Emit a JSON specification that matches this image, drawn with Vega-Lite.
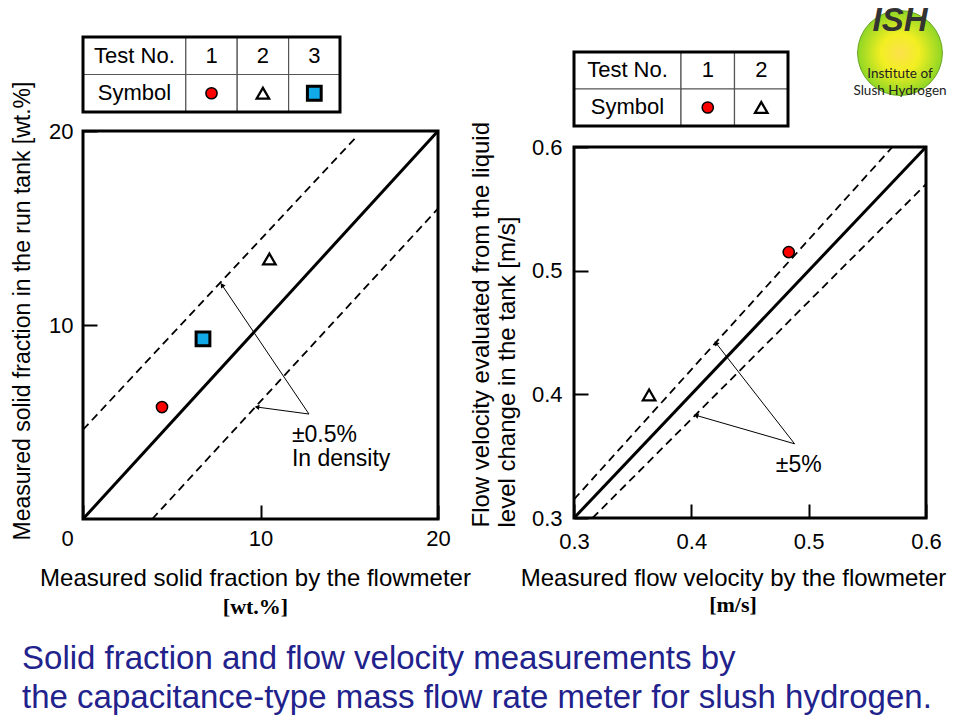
{
  "$schema": "https://vega.github.io/schema/vega-lite/v6.json",
  "padding": {"left": 10, "top": 5, "right": 5, "bottom": 5},
  "background": "white",
  "config": {
    "font": "Liberation Sans",
    "view": {"stroke": "black", "strokeWidth": 3},
    "axis": {"grid": false, "domain": false, "labelFont": "Liberation Sans", "labelFontSize": 22, "labelColor": "black", "titleFont": "Liberation Sans", "titleFontSize": 24, "titleFontWeight": "normal", "titleColor": "black", "tickColor": "black", "tickWidth": 2, "tickSize": -14, "labelFlush": false, "labelOverlap": false},
    "title": {"font": "Liberation Sans", "color": "black", "fontWeight": "normal"}
  },
  "datasets": {
    "table1": [
      {"row": "Test No.", "x0": 0, "x1": 2, "xm": 1, "y0": 1, "y1": 2, "ym": 1.5, "label": "Test No."},
      {"row": "Test No.", "x0": 2, "x1": 3, "xm": 2.5, "y0": 1, "y1": 2, "ym": 1.5, "label": "1"},
      {"row": "Test No.", "x0": 3, "x1": 4, "xm": 3.5, "y0": 1, "y1": 2, "ym": 1.5, "label": "2"},
      {"row": "Test No.", "x0": 4, "x1": 5, "xm": 4.5, "y0": 1, "y1": 2, "ym": 1.5, "label": "3"},
      {"row": "Symbol", "x0": 0, "x1": 2, "xm": 1, "y0": 0, "y1": 1, "ym": 0.5, "label": "Symbol"},
      {"row": "Symbol", "x0": 2, "x1": 3, "xm": 2.5, "y0": 0, "y1": 1, "ym": 0.5, "test": "1"},
      {"row": "Symbol", "x0": 3, "x1": 4, "xm": 3.5, "y0": 0, "y1": 1, "ym": 0.5, "test": "2"},
      {"row": "Symbol", "x0": 4, "x1": 5, "xm": 4.5, "y0": 0, "y1": 1, "ym": 0.5, "test": "3"}
    ],
    "table2": [
      {"row": "Test No.", "x0": 0, "x1": 2, "xm": 1, "y0": 1, "y1": 2, "ym": 1.5, "label": "Test No."},
      {"row": "Test No.", "x0": 2, "x1": 3, "xm": 2.5, "y0": 1, "y1": 2, "ym": 1.5, "label": "1"},
      {"row": "Test No.", "x0": 3, "x1": 4, "xm": 3.5, "y0": 1, "y1": 2, "ym": 1.5, "label": "2"},
      {"row": "Symbol", "x0": 0, "x1": 2, "xm": 1, "y0": 0, "y1": 1, "ym": 0.5, "label": "Symbol"},
      {"row": "Symbol", "x0": 2, "x1": 3, "xm": 2.5, "y0": 0, "y1": 1, "ym": 0.5, "test": "1"},
      {"row": "Symbol", "x0": 3, "x1": 4, "xm": 3.5, "y0": 0, "y1": 1, "ym": 0.5, "test": "2"}
    ],
    "points1": [
      {"test": "1", "x": 4.45, "y": 5.77},
      {"test": "2", "x": 10.5, "y": 13.4},
      {"test": "3", "x": 6.76, "y": 9.28}
    ],
    "lines1": [
      {"line": "equal", "x": 0, "y": 0},
      {"line": "equal", "x": 20, "y": 20},
      {"line": "upper", "x": 0, "y": 4.6},
      {"line": "upper", "x": 15.3, "y": 19.6},
      {"line": "lower", "x": 3.9, "y": 0},
      {"line": "lower", "x": 20, "y": 16}
    ],
    "arrows1": [
      {"id": "a", "x": 7.83, "y": 12.06, "x2": 12.73, "y2": 5.41},
      {"id": "b", "x": 9.8, "y": 5.77, "x2": 12.73, "y2": 5.41}
    ],
    "labels1": [
      {"label": "±0.5%", "x": 11.77, "y": 4.33},
      {"label": "In density", "x": 11.77, "y": 3.09}
    ],
    "points2": [
      {"test": "1", "x": 0.483, "y": 0.515},
      {"test": "2", "x": 0.364, "y": 0.3995}
    ],
    "lines2": [
      {"line": "equal", "x": 0.3, "y": 0.3},
      {"line": "equal", "x": 0.6, "y": 0.6},
      {"line": "upper", "x": 0.3, "y": 0.315},
      {"line": "upper", "x": 0.5714, "y": 0.6},
      {"line": "lower", "x": 0.3158, "y": 0.3},
      {"line": "lower", "x": 0.6, "y": 0.57}
    ],
    "arrows2": [
      {"id": "a", "x": 0.421, "y": 0.4415, "x2": 0.488, "y2": 0.36},
      {"id": "b", "x": 0.404, "y": 0.383, "x2": 0.488, "y2": 0.36}
    ],
    "labels2": [
      {"label": "±5%", "x": 0.472, "y": 0.343}
    ]
  },
  "title": {
    "text": ["Solid fraction and flow velocity measurements by", "the capacitance-type mass flow rate meter for slush hydrogen."],
    "orient": "bottom", "anchor": "start", "fontSize": 33, "fontWeight": "normal", "color": "#22228c", "lineHeight": 39, "offset": 23, "dx": 12, "font": "Liberation Sans"
  },
  "spacing": -5,
  "hconcat": [
    {
      "bounds": "flush",
      "spacing": 19,
      "vconcat": [
        {
          "width": 257, "height": 75,
          "view": {"stroke": null},
          "data": {"name": "table1"},
          "encoding": {
            "x": {"field": "x0", "type": "quantitative", "scale": {"domain": [0, 5], "nice": false, "zero": false}, "axis": null},
            "y": {"field": "y0", "type": "quantitative", "scale": {"domain": [0, 2], "nice": false, "zero": false}, "axis": null}
          },
          "layer": [
            {"mark": {"type": "rect", "fill": "white", "stroke": "#555555", "strokeWidth": 1.2},
             "encoding": {"x2": {"field": "x1"}, "y2": {"field": "y1"}}},
            {"transform": [{"filter": "isValid(datum.label)"}],
             "mark": {"type": "text", "fontSize": 22, "color": "black"},
             "encoding": {"x": {"field": "xm", "type": "quantitative"}, "y": {"field": "ym", "type": "quantitative"}, "text": {"field": "label"}}},
            {"transform": [{"filter": "isValid(datum.test)"}],
             "mark": {"type": "point", "filled": true, "stroke": "black", "opacity": 1},
             "encoding": {
               "x": {"field": "xm", "type": "quantitative"},
               "y": {"field": "ym", "type": "quantitative"},
               "shape": {"field": "test", "type": "nominal", "scale": {"domain": ["1", "2", "3"], "range": ["circle", "triangle-up", "square"]}, "legend": null},
               "fill": {"field": "test", "type": "nominal", "scale": {"domain": ["1", "2", "3"], "range": ["#ff0000", "#ffffff", "#12a9e8"]}, "legend": null},
               "size": {"field": "test", "type": "ordinal", "scale": {"domain": ["1", "2", "3"], "range": [125, 190, 150]}, "legend": null},
               "strokeWidth": {"field": "test", "type": "ordinal", "scale": {"domain": ["1", "2", "3"], "range": [1.5, 3, 2]}, "legend": null}
             }},
            {"mark": {"type": "rect", "fill": null, "stroke": "black", "strokeWidth": 3},
             "encoding": {
               "x": {"aggregate": "min", "field": "x0", "type": "quantitative"},
               "x2": {"aggregate": "max", "field": "x1"},
               "y": {"aggregate": "min", "field": "y0", "type": "quantitative"},
               "y2": {"aggregate": "max", "field": "y1"}
             }}
          ]
        },
        {
          "width": 355, "height": 388,
          "title": {"text": "[wt.%]", "orient": "bottom", "font": "Liberation Serif", "fontWeight": "bold", "fontSize": 22, "offset": 7, "dx": -5},
          "encoding": {
            "x": {"field": "x", "type": "quantitative", "scale": {"domain": [0, 20], "nice": false, "zero": false},
                  "axis": {"values": [0, 10, 20], "title": "Measured solid fraction by the flowmeter", "labelPadding": 23, "titlePadding": 17, "titleX": 172,
                           "labelOffset": {"condition": {"test": "datum.value == 0", "value": -16}, "value": 0}}},
            "y": {"field": "y", "type": "quantitative", "scale": {"domain": [0, 20], "nice": false, "zero": false},
                  "axis": {"values": [10, 20], "title": "Measured solid fraction in the run tank [wt.%]", "titleFontSize": 23, "titleAlign": "left", "titleY": 409, "labelPadding": 24, "titlePadding": 14}}
          },
          "layer": [
            {"data": {"name": "lines1"}, "transform": [{"filter": "datum.line == 'equal'"}],
             "mark": {"type": "line", "color": "black", "strokeWidth": 3}, "encoding": {"detail": {"field": "line"}}},
            {"data": {"name": "lines1"}, "transform": [{"filter": "datum.line != 'equal'"}],
             "mark": {"type": "line", "color": "black", "strokeWidth": 1.8, "strokeDash": [8, 5]}, "encoding": {"detail": {"field": "line"}}},
            {"data": {"name": "arrows1"}, "mark": {"type": "rule", "color": "black", "strokeWidth": 1},
             "encoding": {"x2": {"field": "x2"}, "y2": {"field": "y2"}}},
            {"data": {"name": "arrows1"}, "transform": [{"filter": "datum.id == 'a'"}],
             "mark": {"type": "point", "shape": "triangle-up", "filled": true, "color": "black", "size": 30, "angle": 326, "opacity": 1}},
            {"data": {"name": "arrows1"}, "transform": [{"filter": "datum.id == 'b'"}],
             "mark": {"type": "point", "shape": "triangle-up", "filled": true, "color": "black", "size": 30, "angle": 278, "opacity": 1}},
            {"data": {"name": "labels1"}, "mark": {"type": "text", "align": "left", "baseline": "middle", "fontSize": 23, "color": "black"},
             "encoding": {"text": {"field": "label"}}},
            {"data": {"name": "points1"}, "mark": {"type": "point", "filled": true, "stroke": "black", "opacity": 1},
             "encoding": {
               "shape": {"field": "test", "type": "nominal", "scale": {"domain": ["1", "2", "3"], "range": ["circle", "triangle-up", "square"]}, "legend": null},
               "fill": {"field": "test", "type": "nominal", "scale": {"domain": ["1", "2", "3"], "range": ["#ff0000", "#ffffff", "#12a9e8"]}, "legend": null},
               "size": {"field": "test", "type": "ordinal", "scale": {"domain": ["1", "2", "3"], "range": [150, 250, 220]}, "legend": null},
               "strokeWidth": {"field": "test", "type": "ordinal", "scale": {"domain": ["1", "2", "3"], "range": [1.5, 3, 2]}, "legend": null}
             }}
          ]
        }
      ]
    },
    {
      "spacing": -9,
      "vconcat": [
        {
          "spacing": 62,
          "hconcat": [
            {
              "width": 214, "height": 89,
              "view": {"stroke": null},
              "data": {"name": "table2"},
              "encoding": {
                "x": {"field": "x0", "type": "quantitative", "scale": {"domain": [0, 4], "nice": false, "zero": false}, "axis": null},
                "y": {"field": "y0", "type": "quantitative", "scale": {"domain": [0, 2.405], "nice": false, "zero": false}, "axis": null}
              },
              "layer": [
                {"mark": {"type": "rect", "fill": "white", "stroke": "#555555", "strokeWidth": 1.2},
                 "encoding": {"x2": {"field": "x1"}, "y2": {"field": "y1"}}},
                {"transform": [{"filter": "isValid(datum.label)"}],
                 "mark": {"type": "text", "fontSize": 22, "color": "black"},
                 "encoding": {"x": {"field": "xm", "type": "quantitative"}, "y": {"field": "ym", "type": "quantitative"}, "text": {"field": "label"}}},
                {"transform": [{"filter": "isValid(datum.test)"}],
                 "mark": {"type": "point", "filled": true, "stroke": "black", "opacity": 1},
                 "encoding": {
                   "x": {"field": "xm", "type": "quantitative"},
                   "y": {"field": "ym", "type": "quantitative"},
                   "shape": {"field": "test", "type": "nominal", "scale": {"domain": ["1", "2"], "range": ["circle", "triangle-up"]}, "legend": null},
                   "fill": {"field": "test", "type": "nominal", "scale": {"domain": ["1", "2"], "range": ["#ff0000", "#ffffff"]}, "legend": null},
                   "size": {"field": "test", "type": "ordinal", "scale": {"domain": ["1", "2"], "range": [125, 190]}, "legend": null},
                   "strokeWidth": {"field": "test", "type": "ordinal", "scale": {"domain": ["1", "2"], "range": [1.5, 3]}, "legend": null}
                 }},
                {"mark": {"type": "rect", "fill": null, "stroke": "black", "strokeWidth": 3},
                 "encoding": {
                   "x": {"aggregate": "min", "field": "x0", "type": "quantitative"},
                   "x2": {"aggregate": "max", "field": "x1"},
                   "y": {"aggregate": "min", "field": "y0", "type": "quantitative"},
                   "y2": {"aggregate": "max", "field": "y1"}
                 }}
              ]
            },
            {
              "width": 96, "height": 32,
              "view": {"stroke": null},
              "layer": [
                {"data": {"values": [{"t": "logo"}]},
                 "mark": {"type": "point", "shape": "circle", "size": 7200, "filled": true, "opacity": 1, "stroke": "#6aa620", "strokeWidth": 1,
                          "fill": {"gradient": "radial", "x1": 0.5, "y1": 0.5, "x2": 0.5, "y2": 0.5, "r1": 0, "r2": 0.5,
                                   "stops": [{"offset": 0, "color": "#fce04c"}, {"offset": 0.45, "color": "#f2ef22"}, {"offset": 1, "color": "#8fd625"}]}},
                 "encoding": {}},
                {"data": {"values": [{"t": "ISH"}]},
                 "mark": {"type": "text", "font": "Liberation Sans", "fontStyle": "italic", "fontWeight": "bold", "fontSize": 33, "color": "#333333", "dy": -32},
                 "encoding": {"text": {"field": "t"}}},
                {"data": {"values": [{"t": "Institute of"}]},
                 "mark": {"type": "text", "font": "Lato", "fontSize": 13.5, "color": "#222222", "dy": 21},
                 "encoding": {"text": {"field": "t"}}},
                {"data": {"values": [{"t": "Slush Hydrogen"}]},
                 "mark": {"type": "text", "font": "Lato", "fontSize": 13.5, "color": "#222222", "dy": 38},
                 "encoding": {"text": {"field": "t"}}}
              ]
            }
          ]
        },
        {
          "width": 352, "height": 371,
          "title": {"text": "[m/s]", "orient": "bottom", "font": "Liberation Serif", "fontWeight": "bold", "fontSize": 22, "offset": 5, "dx": -17},
          "encoding": {
            "x": {"field": "x", "type": "quantitative", "scale": {"domain": [0.3, 0.6], "nice": false, "zero": false},
                  "axis": {"values": [0.3, 0.4, 0.5, 0.6], "format": ".1f", "title": "Measured flow velocity by the flowmeter", "labelPadding": 27, "titlePadding": 14, "titleX": 159}},
            "y": {"field": "y", "type": "quantitative", "scale": {"domain": [0.3, 0.6], "nice": false, "zero": false},
                  "axis": {"values": [0.3, 0.4, 0.5, 0.6], "format": ".1f", "title": ["Flow velocity evaluated from the liquid", "level change in the tank [m/s]"], "titleAlign": "left", "titleY": 380, "titleLineHeight": 26, "labelPadding": 26, "titlePadding": 12}}
          },
          "layer": [
            {"data": {"name": "lines2"}, "transform": [{"filter": "datum.line == 'equal'"}],
             "mark": {"type": "line", "color": "black", "strokeWidth": 3}, "encoding": {"detail": {"field": "line"}}},
            {"data": {"name": "lines2"}, "transform": [{"filter": "datum.line != 'equal'"}],
             "mark": {"type": "line", "color": "black", "strokeWidth": 1.8, "strokeDash": [8, 5]}, "encoding": {"detail": {"field": "line"}}},
            {"data": {"name": "arrows2"}, "mark": {"type": "rule", "color": "black", "strokeWidth": 1},
             "encoding": {"x2": {"field": "x2"}, "y2": {"field": "y2"}}},
            {"data": {"name": "arrows2"}, "transform": [{"filter": "datum.id == 'a'"}],
             "mark": {"type": "point", "shape": "triangle-up", "filled": true, "color": "black", "size": 30, "angle": 322, "opacity": 1}},
            {"data": {"name": "arrows2"}, "transform": [{"filter": "datum.id == 'b'"}],
             "mark": {"type": "point", "shape": "triangle-up", "filled": true, "color": "black", "size": 30, "angle": 286, "opacity": 1}},
            {"data": {"name": "labels2"}, "mark": {"type": "text", "align": "left", "baseline": "middle", "fontSize": 23, "color": "black"},
             "encoding": {"text": {"field": "label"}}},
            {"data": {"name": "points2"}, "mark": {"type": "point", "filled": true, "stroke": "black", "opacity": 1},
             "encoding": {
               "shape": {"field": "test", "type": "nominal", "scale": {"domain": ["1", "2"], "range": ["circle", "triangle-up"]}, "legend": null},
               "fill": {"field": "test", "type": "nominal", "scale": {"domain": ["1", "2"], "range": ["#ff0000", "#ffffff"]}, "legend": null},
               "size": {"field": "test", "type": "ordinal", "scale": {"domain": ["1", "2"], "range": [150, 250]}, "legend": null},
               "strokeWidth": {"field": "test", "type": "ordinal", "scale": {"domain": ["1", "2"], "range": [1.5, 3]}, "legend": null}
             }}
          ]
        }
      ]
    }
  ]
}
